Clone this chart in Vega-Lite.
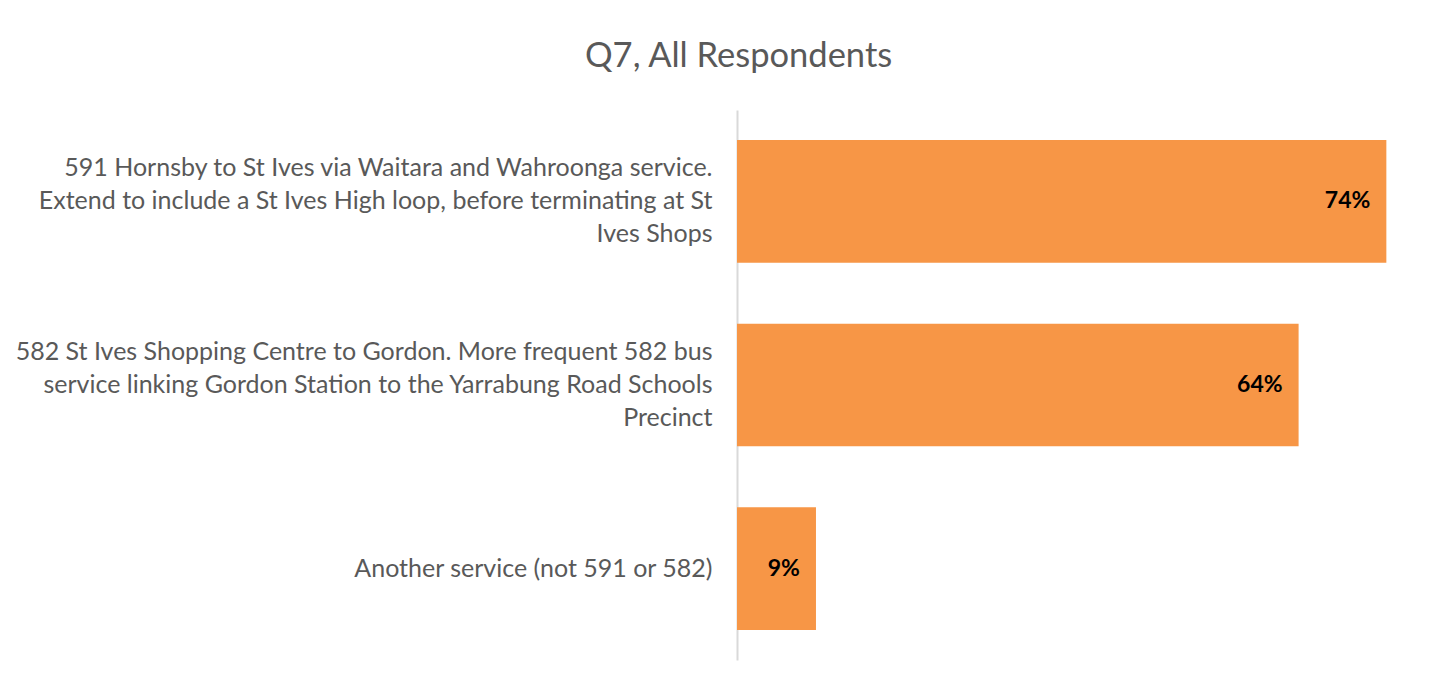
{
  "$schema": "https://vega.github.io/schema/vega-lite/v6.json",
  "width": 702,
  "height": 550,
  "autosize": {"type": "none"},
  "padding": {"left": 737, "top": 110, "right": 17, "bottom": 21},
  "background": "white",
  "title": {
    "text": "Q7, All Respondents",
    "font": "Lato",
    "fontSize": 34.5,
    "fontWeight": "normal",
    "color": "#595959",
    "anchor": "start",
    "frame": "group",
    "dx": -152,
    "offset": 2,
    "baseline": "bottom"
  },
  "data": {
    "values": [
      {"service": "591 Hornsby to St Ives via Waitara and Wahroonga service.|Extend to include a St Ives High loop, before terminating at St|Ives Shops", "pct": 0.74, "order": 1},
      {"service": "582 St Ives Shopping Centre to Gordon. More frequent 582 bus|service linking Gordon Station to the Yarrabung Road Schools|Precinct", "pct": 0.64, "order": 2},
      {"service": "Another service (not 591 or 582)", "pct": 0.09, "order": 3}
    ]
  },
  "encoding": {
    "y": {
      "field": "service",
      "type": "nominal",
      "sort": {"field": "order"},
      "scale": {"paddingInner": 0.332, "paddingOuter": 0.163},
      "axis": {
        "title": null,
        "ticks": false,
        "domainColor": "#d9d9d9",
        "domainWidth": 2,
        "labelExpr": "split(datum.label, '|')",
        "labelFont": "Lato",
        "labelFontSize": 25,
        "labelColor": "#595959",
        "labelLineHeight": 33,
        "labelPadding": 25,
        "labelLimit": 900,
        "labelAlign": "right",
        "labelOffset": {"condition": {"test": "indexof(datum.value, '|') >= 0", "value": -33}, "value": 0}
      }
    },
    "x": {
      "field": "pct",
      "type": "quantitative",
      "scale": {"domain": [0, 0.8], "nice": false},
      "axis": null
    }
  },
  "layer": [
    {"mark": {"type": "bar", "color": "#F79646"}},
    {
      "mark": {"type": "text", "align": "right", "dx": -16, "font": "Lato", "fontSize": 23, "fontWeight": "bold", "color": "#000000"},
      "encoding": {"text": {"field": "pct", "type": "quantitative", "format": ".0%"}}
    }
  ],
  "config": {"view": {"stroke": null}}
}
